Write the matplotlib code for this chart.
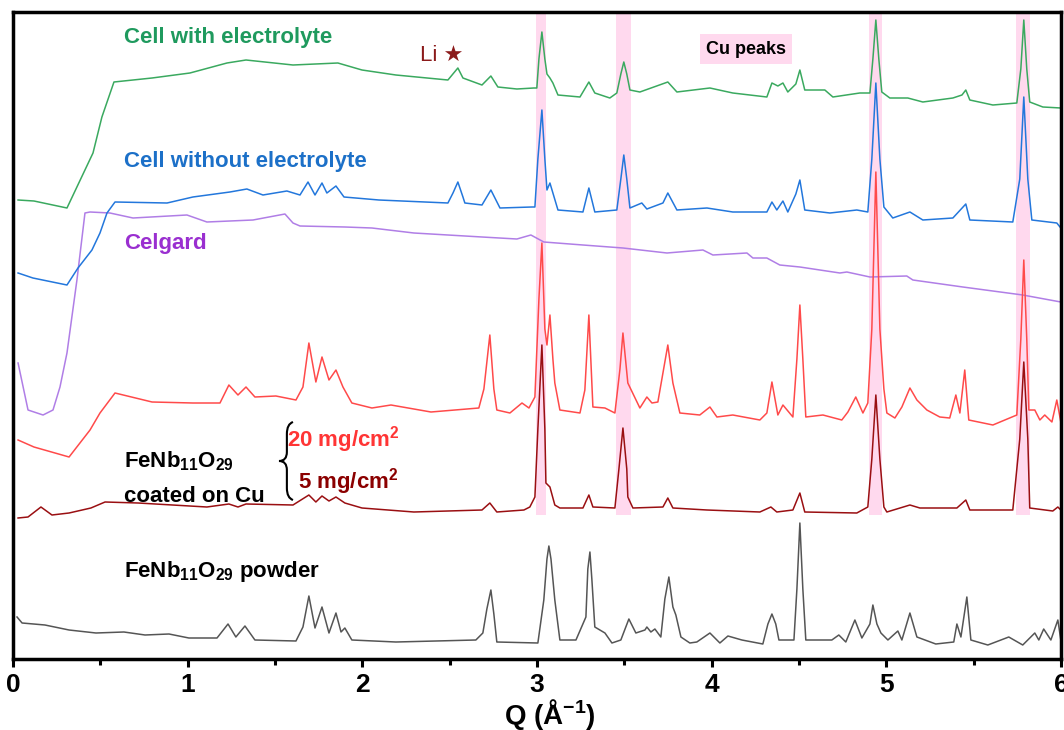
import matplotlib
matplotlib.use('Agg')
import matplotlib.pyplot as plt
import numpy as np
from matplotlib.path import Path
from matplotlib.patches import PathPatch

plt.rcParams['font.family'] = ['Liberation Sans', 'DejaVu Sans']
plt.rcParams['mathtext.fontset'] = 'custom'
plt.rcParams['mathtext.rm'] = 'Liberation Sans'
plt.rcParams['mathtext.bf'] = 'Liberation Sans:bold'
plt.rcParams['mathtext.default'] = 'bf'

# Q (1/A), intensity (a.u., stacked)
cell_electrolyte = [
    (0.029, 459), (0.120, 458), (0.309, 451), (0.458, 506), (0.509, 542), (0.578, 577),
    (0.796, 581), (1.013, 586), (1.225, 596), (1.334, 599), (1.603, 594), (1.860, 596),
    (1.998, 589), (2.192, 584), (2.490, 579), (2.547, 591), (2.576, 581), (2.685, 574),
    (2.736, 583), (2.776, 572), (2.885, 570), (2.982, 571), (2.999, 571), (3.011, 600),
    (3.028, 627), (3.045, 600), (3.057, 585), (3.074, 581), (3.091, 576), (3.120, 564),
    (3.246, 562), (3.297, 577), (3.331, 566), (3.417, 561), (3.457, 566), (3.480, 585),
    (3.497, 597), (3.514, 585), (3.532, 569), (3.589, 567), (3.749, 577), (3.801, 567),
    (3.990, 571), (4.121, 566), (4.316, 562), (4.345, 576), (4.379, 573), (4.408, 576),
    (4.436, 567), (4.482, 575), (4.505, 589), (4.533, 569), (4.648, 569), (4.694, 562),
    (4.848, 566), (4.906, 566), (4.923, 600), (4.940, 639), (4.957, 600), (4.974, 567),
    (5.020, 561), (5.123, 561), (5.209, 557), (5.381, 561), (5.433, 564), (5.455, 569),
    (5.478, 559), (5.610, 554), (5.747, 556), (5.770, 590), (5.787, 639), (5.804, 590),
    (5.821, 557), (5.896, 552), (5.999, 551)]

cell_no_electrolyte = [
    (0.029, 386), (0.114, 381), (0.309, 374), (0.372, 391), (0.452, 409), (0.498, 426),
    (0.538, 446), (0.584, 457), (0.882, 456), (1.030, 462), (1.242, 467), (1.339, 470),
    (1.431, 464), (1.568, 468), (1.643, 464), (1.689, 477), (1.729, 464), (1.769, 476),
    (1.797, 466), (1.849, 473), (1.895, 462), (2.095, 459), (2.490, 456), (2.519, 466),
    (2.547, 477), (2.576, 462), (2.587, 456), (2.685, 454), (2.736, 469), (2.788, 451),
    (2.971, 452), (2.988, 452), (3.005, 500), (3.028, 549), (3.045, 500), (3.057, 469),
    (3.074, 476), (3.120, 449), (3.263, 447), (3.297, 471), (3.331, 447), (3.457, 449),
    (3.480, 480), (3.497, 504), (3.514, 480), (3.532, 451), (3.600, 456), (3.629, 450),
    (3.721, 456), (3.749, 466), (3.801, 449), (3.973, 451), (4.121, 447), (4.316, 447),
    (4.345, 457), (4.373, 449), (4.408, 458), (4.436, 447), (4.482, 465), (4.505, 479),
    (4.533, 449), (4.677, 446), (4.831, 449), (4.894, 447), (4.917, 500), (4.940, 576),
    (4.963, 500), (4.986, 452), (5.037, 441), (5.135, 447), (5.209, 439), (5.381, 441),
    (5.455, 455), (5.478, 439), (5.724, 437), (5.764, 480), (5.787, 562), (5.810, 480),
    (5.833, 439), (5.976, 436), (5.999, 431)]

celgard = [
    (0.029, 296), (0.052, 277), (0.086, 249), (0.172, 244), (0.229, 249), (0.269, 272),
    (0.309, 306), (0.366, 379), (0.412, 446), (0.441, 447), (0.555, 446), (0.687, 441),
    (0.996, 444), (1.110, 437), (1.374, 439), (1.557, 445), (1.603, 436), (1.643, 433),
    (1.900, 432), (2.055, 431), (2.295, 426), (2.685, 422), (2.885, 420), (2.965, 424),
    (3.039, 417), (3.263, 414), (3.492, 411), (3.744, 406), (3.950, 409), (4.007, 404),
    (4.202, 406), (4.236, 401), (4.316, 401), (4.390, 394), (4.505, 392), (4.734, 386),
    (4.774, 387), (4.906, 382), (5.117, 383), (5.152, 379), (5.438, 372), (5.781, 364),
    (5.999, 357)]

coated_20 = [
    (0.029, 219), (0.120, 212), (0.321, 202), (0.441, 229), (0.498, 246), (0.584, 266),
    (0.796, 257), (1.030, 256), (1.185, 256), (1.236, 274), (1.288, 264), (1.334, 272),
    (1.385, 262), (1.505, 263), (1.620, 259), (1.660, 272), (1.694, 316), (1.734, 277),
    (1.769, 302), (1.809, 279), (1.849, 289), (1.889, 272), (1.940, 256), (2.055, 251),
    (2.164, 254), (2.393, 247), (2.667, 251), (2.696, 270), (2.730, 324), (2.753, 270),
    (2.770, 249), (2.845, 246), (2.914, 256), (2.954, 251), (2.988, 262), (3.011, 360),
    (3.028, 416), (3.045, 330), (3.057, 314), (3.074, 344), (3.091, 300), (3.102, 276),
    (3.131, 249), (3.246, 246), (3.274, 269), (3.297, 344), (3.320, 252), (3.389, 251),
    (3.446, 246), (3.475, 290), (3.492, 326), (3.520, 276), (3.589, 251), (3.629, 262),
    (3.658, 256), (3.692, 257), (3.721, 286), (3.749, 314), (3.778, 276), (3.818, 246),
    (3.932, 244), (3.990, 252), (4.030, 242), (4.121, 244), (4.276, 239), (4.316, 246),
    (4.345, 277), (4.379, 244), (4.408, 254), (4.465, 242), (4.488, 300), (4.505, 354),
    (4.522, 300), (4.539, 242), (4.637, 244), (4.745, 239), (4.780, 247), (4.825, 262),
    (4.866, 246), (4.894, 256), (4.917, 330), (4.940, 487), (4.963, 330), (4.986, 270),
    (5.003, 246), (5.049, 241), (5.089, 252), (5.135, 271), (5.175, 259), (5.232, 249),
    (5.306, 242), (5.363, 241), (5.398, 264), (5.421, 246), (5.449, 289), (5.472, 239),
    (5.610, 234), (5.747, 244), (5.770, 320), (5.787, 399), (5.804, 320), (5.816, 249),
    (5.850, 249), (5.879, 239), (5.907, 244), (5.948, 237), (5.976, 259), (5.999, 237)]

coated_5 = [
    (0.029, 141), (0.086, 142), (0.160, 152), (0.223, 144), (0.321, 146), (0.446, 151),
    (0.527, 157), (0.716, 156), (1.110, 152), (1.236, 155), (1.288, 152), (1.334, 155),
    (1.603, 154), (1.694, 164), (1.734, 157), (1.769, 163), (1.809, 158), (1.849, 162),
    (1.900, 156), (1.998, 151), (2.295, 147), (2.685, 149), (2.730, 156), (2.770, 147),
    (2.925, 149), (2.959, 152), (2.988, 162), (3.005, 230), (3.028, 314), (3.045, 230),
    (3.051, 176), (3.074, 172), (3.102, 154), (3.131, 151), (3.263, 151), (3.297, 164),
    (3.320, 152), (3.446, 151), (3.469, 190), (3.492, 231), (3.514, 190), (3.520, 162),
    (3.549, 151), (3.721, 152), (3.749, 161), (3.778, 151), (3.973, 149), (4.276, 147),
    (4.339, 152), (4.373, 147), (4.465, 149), (4.505, 166), (4.533, 147), (4.831, 146),
    (4.894, 152), (4.917, 200), (4.940, 264), (4.963, 200), (4.986, 152), (5.003, 147),
    (5.135, 154), (5.192, 151), (5.404, 151), (5.455, 159), (5.478, 149), (5.724, 149),
    (5.764, 220), (5.787, 297), (5.810, 220), (5.821, 151), (5.953, 148), (5.982, 152),
    (5.999, 149)]

powder = [
    (0.023, 42), (0.052, 36), (0.183, 34), (0.321, 29), (0.475, 26), (0.635, 27),
    (0.756, 24), (0.893, 25), (1.007, 21), (1.168, 21), (1.231, 35), (1.276, 22),
    (1.328, 33), (1.385, 19), (1.620, 18), (1.660, 32), (1.694, 63), (1.729, 31),
    (1.769, 52), (1.809, 26), (1.849, 46), (1.878, 27), (1.900, 31), (1.940, 19),
    (2.192, 17), (2.650, 19), (2.690, 26), (2.713, 50), (2.736, 69), (2.753, 45),
    (2.770, 17), (3.005, 16), (3.039, 59), (3.057, 100), (3.068, 113), (3.080, 100),
    (3.102, 59), (3.131, 19), (3.223, 19), (3.280, 42), (3.291, 90), (3.303, 107),
    (3.314, 80), (3.331, 32), (3.389, 26), (3.429, 16), (3.480, 19), (3.526, 40),
    (3.566, 26), (3.618, 29), (3.629, 32), (3.652, 27), (3.675, 30), (3.709, 22),
    (3.732, 60), (3.755, 82), (3.778, 52), (3.795, 44), (3.824, 22), (3.875, 16),
    (3.915, 17), (3.990, 26), (4.047, 16), (4.093, 23), (4.173, 19), (4.293, 15),
    (4.322, 35), (4.345, 45), (4.367, 35), (4.385, 19), (4.471, 19), (4.488, 70),
    (4.505, 136), (4.522, 70), (4.539, 19), (4.688, 19), (4.728, 24), (4.768, 17),
    (4.820, 39), (4.860, 21), (4.906, 35), (4.923, 54), (4.946, 35), (4.969, 26),
    (5.009, 19), (5.066, 28), (5.089, 19), (5.135, 46), (5.175, 22), (5.283, 15),
    (5.386, 17), (5.404, 35), (5.427, 22), (5.461, 62), (5.484, 19), (5.581, 14),
    (5.701, 22), (5.781, 14), (5.850, 26), (5.873, 19), (5.901, 30), (5.942, 19),
    (5.982, 39), (5.999, 19)]

cu_bands = [(2.994, 3.051), (3.452, 3.536), (4.900, 4.978), (5.741, 5.821)]

fig = plt.figure(figsize=(10.64, 7.30), dpi=100)
ax = fig.add_axes([13/1064, 71/730, 1048/1064, 647/730])

# pink Cu bands, stop just below the 5 mg/cm2 trace
for a, b in cu_bands:
    ax.axvspan(a, b, ymin=0.2226, ymax=1, color='#ffd9ee', lw=0, zorder=0)

series = [(celgard, '#b07ee6'), (cell_electrolyte, '#3aa95f'),
          (cell_no_electrolyte, '#2377dc'), (coated_20, '#ff4a4a'),
          (coated_5, '#9a0f12'), (powder, '#555555')]
for data, col in series:
    q, y = np.array(data).T
    ax.plot(q, y, color=col, lw=1.1, zorder=2)

ax.set_xlim(0, 6)
ax.set_ylim(0, 647)
ax.set_yticks([])
ax.set_xticks(np.arange(0, 7, 1))
ax.set_xticks(np.arange(0.5, 6, 1), minor=True)
ax.tick_params(axis='x', which='major', direction='out', length=6, width=2.2,
               labelsize=19, pad=4)
ax.tick_params(axis='x', which='minor', direction='out', length=4, width=2.2)
for lab in ax.get_xticklabels():
    lab.set_fontweight('bold')
for s in ax.spines.values():
    s.set_linewidth(2.5)
ax.set_xlabel('Q (Å$^{-1}$)', fontsize=20, fontweight='bold', labelpad=0)
ax.xaxis.label.set_x(0.512)

fs = 16
ax.text(0.635, 621, 'Cell with electrolyte', color='#1f9a5e', fontsize=fs,
        fontweight='bold', va='center')
ax.text(2.33, 604, 'Li \u2605', color='#8b1a1a', fontsize=fs, va='center')
ax.text(0.635, 497, 'Cell without electrolyte', color='#1c70c8', fontsize=fs,
        fontweight='bold', va='center')
ax.text(0.635, 416, 'Celgard', color='#9a2fd0', fontsize=fs,
        fontweight='bold', va='center')
ax.text(0.635, 198, 'FeNb$_{11}$O$_{29}$', color='black', fontsize=fs,
        fontweight='bold', va='center')
ax.text(0.635, 163, 'coated on Cu', color='black', fontsize=fs,
        fontweight='bold', va='center')
ax.text(1.568, 219, '20 mg/cm$^{2}$', color='#ff3535', fontsize=fs,
        fontweight='bold', va='center')
ax.text(1.631, 177, '5 mg/cm$^{2}$', color='#8b0000', fontsize=fs,
        fontweight='bold', va='center')
ax.text(0.635, 87, 'FeNb$_{11}$O$_{29}$ powder', color='black', fontsize=fs,
        fontweight='bold', va='center')
ax.text(4.196, 610, 'Cu peaks', color='black', fontsize=13, fontweight='bold',
        ha='center', va='center',
        bbox=dict(boxstyle='square,pad=0.35', fc='#ffd9ee', ec='none'))

# curly brace
verts = [(1.603, 237), (1.568, 235), (1.568, 225), (1.568, 207),
         (1.568, 198), (1.523, 198), (1.568, 198), (1.568, 189),
         (1.568, 171), (1.568, 161), (1.603, 159)]
codes = [Path.MOVETO, Path.CURVE3, Path.CURVE3, Path.LINETO,
         Path.CURVE3, Path.CURVE3, Path.CURVE3, Path.CURVE3,
         Path.LINETO, Path.CURVE3, Path.CURVE3]
ax.add_patch(PathPatch(Path(verts, codes), fc='none', ec='black', lw=1.5, zorder=3))

fig.savefig('out.png', dpi=100)
